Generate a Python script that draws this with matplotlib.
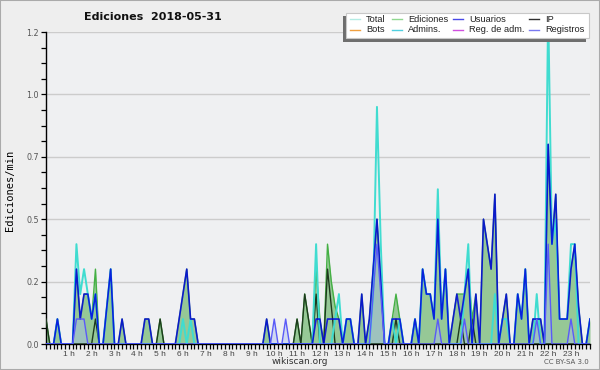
import numpy as np
import matplotlib
matplotlib.use("Agg")
from matplotlib import pyplot as plt
from matplotlib.lines import Line2D
from matplotlib.patches import Rectangle

title = "Ediciones  2018-05-31"
hour_labels = ["%d h" % h for h in range(1, 24)]
ytick_vals = [0, 0.25, 0.5, 0.75, 1.0, 1.25]
ytick_labels = ["0.0", "0.2", "0.5", "0.7", "1.0", "1.2"]

# edits per minute, one value per 10 min slot (144 slots), two hours per row
ediciones = [
    0.1, 0, 0, 0.1, 0, 0, 0, 0, 0.3, 0.1, 0.2, 0.2,
    0.1, 0.3, 0, 0, 0.15, 0.3, 0, 0, 0.1, 0, 0, 0,
    0, 0, 0.1, 0.1, 0, 0, 0.1, 0, 0, 0, 0, 0.1,
    0.2, 0.3, 0.1, 0.1, 0, 0, 0, 0, 0, 0, 0, 0,
    0, 0, 0, 0, 0, 0, 0, 0, 0, 0, 0.1, 0,
    0, 0, 0, 0, 0, 0, 0.1, 0, 0.2, 0.1, 0, 0.3,
    0.1, 0, 0.4, 0.25, 0.15, 0.1, 0, 0.1, 0.1, 0, 0, 0.2,
    0, 0.1, 0.3, 0.5, 0.25, 0, 0, 0.1, 0.2, 0.1, 0, 0,
    0, 0.1, 0, 0.3, 0.2, 0.2, 0.1, 0.5, 0.1, 0.3, 0, 0.1,
    0.2, 0.2, 0.2, 0.3, 0.1, 0.2, 0, 0.5, 0.4, 0.3, 0.6, 0,
    0.1, 0.2, 0, 0, 0.2, 0.1, 0.3, 0, 0.1, 0.1, 0.1, 0,
    0.8, 0.4, 0.6, 0.1, 0.1, 0.1, 0.3, 0.4, 0.15, 0, 0, 0.1,
]
usuarios = [
    0, 0, 0, 0.1, 0, 0, 0, 0, 0.3, 0.1, 0.2, 0.2,
    0.1, 0.2, 0, 0, 0.15, 0.3, 0, 0, 0.1, 0, 0, 0,
    0, 0, 0.1, 0.1, 0, 0, 0, 0, 0, 0, 0, 0.1,
    0.2, 0.3, 0.1, 0.1, 0, 0, 0, 0, 0, 0, 0, 0,
    0, 0, 0, 0, 0, 0, 0, 0, 0, 0, 0.1, 0,
    0, 0, 0, 0, 0, 0, 0, 0, 0, 0, 0, 0.1,
    0.1, 0, 0.1, 0.1, 0.1, 0.1, 0, 0.1, 0.1, 0, 0, 0.2,
    0, 0.1, 0.3, 0.5, 0.25, 0, 0, 0.1, 0.1, 0.1, 0, 0,
    0, 0.1, 0, 0.3, 0.2, 0.2, 0.1, 0.5, 0.1, 0.3, 0, 0.1,
    0.2, 0.1, 0.2, 0.3, 0, 0.2, 0, 0.5, 0.4, 0.3, 0.6, 0,
    0.1, 0.2, 0, 0, 0.2, 0.1, 0.3, 0, 0.1, 0.1, 0.1, 0,
    0.8, 0.4, 0.6, 0.1, 0.1, 0.1, 0.3, 0.4, 0.15, 0, 0, 0.1,
]
ip = [
    0.1, 0, 0, 0, 0, 0, 0, 0, 0, 0, 0, 0,
    0, 0.1, 0, 0, 0, 0, 0, 0, 0, 0, 0, 0,
    0, 0, 0, 0, 0, 0, 0.1, 0, 0, 0, 0, 0,
    0, 0, 0, 0, 0, 0, 0, 0, 0, 0, 0, 0,
    0, 0, 0, 0, 0, 0, 0, 0, 0, 0, 0, 0,
    0, 0, 0, 0, 0, 0, 0.1, 0, 0.2, 0.1, 0, 0.2,
    0, 0, 0.3, 0.15, 0, 0, 0, 0, 0, 0, 0, 0,
    0, 0, 0, 0, 0, 0, 0, 0, 0.1, 0, 0, 0,
    0, 0, 0, 0, 0, 0, 0, 0, 0, 0, 0, 0,
    0, 0.1, 0, 0, 0.1, 0, 0, 0, 0, 0, 0, 0,
    0, 0, 0, 0, 0, 0, 0, 0, 0, 0, 0, 0,
    0, 0, 0, 0, 0, 0, 0, 0, 0, 0, 0, 0,
]
admins = [
    0, 0, 0, 0.1, 0, 0, 0, 0, 0.4, 0.2, 0.3, 0.2,
    0.1, 0.2, 0, 0, 0.15, 0.3, 0, 0, 0, 0, 0, 0,
    0, 0, 0, 0, 0, 0, 0, 0, 0, 0, 0, 0,
    0.1, 0, 0.1, 0, 0, 0, 0, 0, 0, 0, 0, 0,
    0, 0, 0, 0, 0, 0, 0, 0, 0, 0, 0, 0,
    0, 0, 0, 0, 0, 0, 0, 0, 0, 0, 0, 0.4,
    0, 0, 0, 0, 0.1, 0.2, 0, 0.1, 0.1, 0, 0, 0,
    0, 0, 0.2, 0.95, 0.4, 0, 0, 0.1, 0, 0.1, 0, 0,
    0, 0.1, 0, 0.3, 0.2, 0.2, 0.1, 0.62, 0.1, 0.3, 0, 0,
    0, 0, 0.2, 0.4, 0, 0, 0, 0, 0, 0, 0.2, 0,
    0.1, 0.1, 0, 0, 0.2, 0.1, 0.3, 0, 0, 0.2, 0, 0,
    1.35, 0.4, 0.5, 0.1, 0.1, 0.1, 0.4, 0.4, 0, 0, 0, 0.1,
]
registros = [
    0, 0, 0, 0, 0, 0, 0, 0, 0.1, 0.1, 0.1, 0,
    0, 0, 0, 0, 0, 0, 0, 0, 0, 0, 0, 0,
    0, 0, 0, 0, 0, 0, 0, 0, 0, 0, 0, 0,
    0, 0, 0, 0, 0, 0, 0, 0, 0, 0, 0, 0,
    0, 0, 0, 0, 0, 0, 0, 0, 0, 0, 0, 0,
    0.1, 0, 0, 0.1, 0, 0, 0, 0, 0, 0, 0, 0,
    0, 0, 0, 0, 0, 0, 0, 0, 0, 0, 0, 0,
    0, 0, 0.2, 0.4, 0.2, 0, 0, 0, 0, 0, 0, 0,
    0, 0, 0, 0, 0, 0, 0, 0.1, 0, 0, 0, 0,
    0, 0, 0.1, 0, 0, 0, 0, 0, 0, 0, 0, 0,
    0, 0, 0, 0, 0, 0, 0, 0, 0, 0.1, 0, 0,
    0.4, 0, 0, 0, 0, 0, 0.1, 0, 0, 0, 0, 0,
]

# legend, row by row
legend_names = ["Total", "Ediciones", "Usuarios", "IP",
                "Bots", "Admins.", "Reg. de adm.", "Registros"]
legend_colors = ["#b4ece4", "#90d890", "#4848e8", "#303030",
                 "#f0a040", "#50d0e0", "#d050e0", "#7878f0"]

x = np.arange(len(ediciones))

fig = plt.figure(figsize=(6, 3.7), dpi=100, facecolor="#eeeeee")
ax = fig.add_axes([46 / 600, 26 / 370, 544 / 600, 312 / 370])
ax.set_facecolor("#eff0f2")

ax.fill_between(x, ediciones, color="#96c896", lw=0, zorder=1)
ax.plot(x, ediciones, color="#44b044", lw=1, zorder=2)
ax.fill_between(x, registros, color="#a8bcf0", alpha=0.45, lw=0, zorder=2)
ax.plot(x, ip, color="#1e3a1e", lw=1, zorder=3)
ax.plot(x, admins, color="#40dcd0", lw=1.4, zorder=3)
ax.plot(x, usuarios, color="#0000e0", lw=1.2, alpha=0.85, zorder=4)
ax.plot(x, registros, color="#5a5af8", lw=1, zorder=4)

ax.set_xlim(0, 143)
ax.set_ylim(0, 1.25)
ax.set_yticks(ytick_vals)
ax.set_yticklabels(ytick_labels)
ax.set_yticks(np.arange(0, 1.26, 0.0625), minor=True)
ax.set_xticks([6 * h for h in range(1, 24)])
ax.set_xticklabels(hour_labels, family="Liberation Sans", fontsize=6)
ax.set_xticks(x, minor=True)
ax.tick_params(which="both", direction="out", length=3.5, width=0.9,
               color="black", labelcolor="#444444", pad=1.5)
ax.tick_params(axis="y", labelsize=5.8, labelcolor="#555555")
ax.grid(axis="y", color="#cccccc", lw=1)
ax.set_axisbelow(True)
for s in ["top", "right"]:
    ax.spines[s].set_visible(False)
for s in ["left", "bottom"]:
    ax.spines[s].set_linewidth(1)

fig.text(153 / 600, 1 - 17 / 370, title, ha="center", va="center",
         fontsize=8, fontweight="bold", color="#111111")
fig.text(10 / 600, 1 - 190 / 370, "Ediciones/min", rotation=90,
         ha="center", va="center", fontsize=7.5, family="DejaVu Sans Mono")
fig.text(0.5, 1 - 362 / 370, "wikiscan.org", ha="center", va="center",
         fontsize=6.5, color="#333333")
fig.text(589 / 600, 1 - 362 / 370, "CC BY-SA 3.0", ha="right", va="center",
         fontsize=5, color="#555555")


def fx(px):
    return px / 600


def fy(py):
    return 1 - py / 370


# legend box with its shadow, drawn in pixels of the figure
bx0, bx1, by0, by1 = 346, 589, 12.7, 38.3
fig.patches.append(Rectangle((fx(bx0 - 3.5), fy(by1 + 3.5)), fx(bx1 - bx0),
                             (by1 - by0) / 370, transform=fig.transFigure,
                             facecolor="#6e6e6e", edgecolor="none", zorder=9))
fig.patches.append(Rectangle((fx(bx0), fy(by1)), fx(bx1 - bx0),
                             (by1 - by0) / 370, transform=fig.transFigure,
                             facecolor="white", edgecolor="#c8c8c8", lw=0.8,
                             zorder=10))
col_handle = [350, 392, 453, 529]
col_text = [366, 408, 469, 545]
row_y = [19, 29.5]
for k, (name, c) in enumerate(zip(legend_names, legend_colors)):
    r, cidx = divmod(k, 4)
    h0 = col_handle[cidx]
    fig.add_artist(Line2D([fx(h0), fx(h0 + 10)], [fy(row_y[r])] * 2,
                          transform=fig.transFigure, color=c, lw=1, zorder=11))
    fig.text(fx(col_text[cidx]), fy(row_y[r]), name, ha="left", va="center",
             fontsize=6.7, family="Liberation Sans", color="#222222",
             zorder=11)

fig.patches.append(Rectangle((0, 0), 1, 1, transform=fig.transFigure,
                             fill=False, edgecolor="#aaaaaa", lw=1.5, zorder=20))

fig.savefig("out.png", dpi=100, facecolor=fig.get_facecolor())
